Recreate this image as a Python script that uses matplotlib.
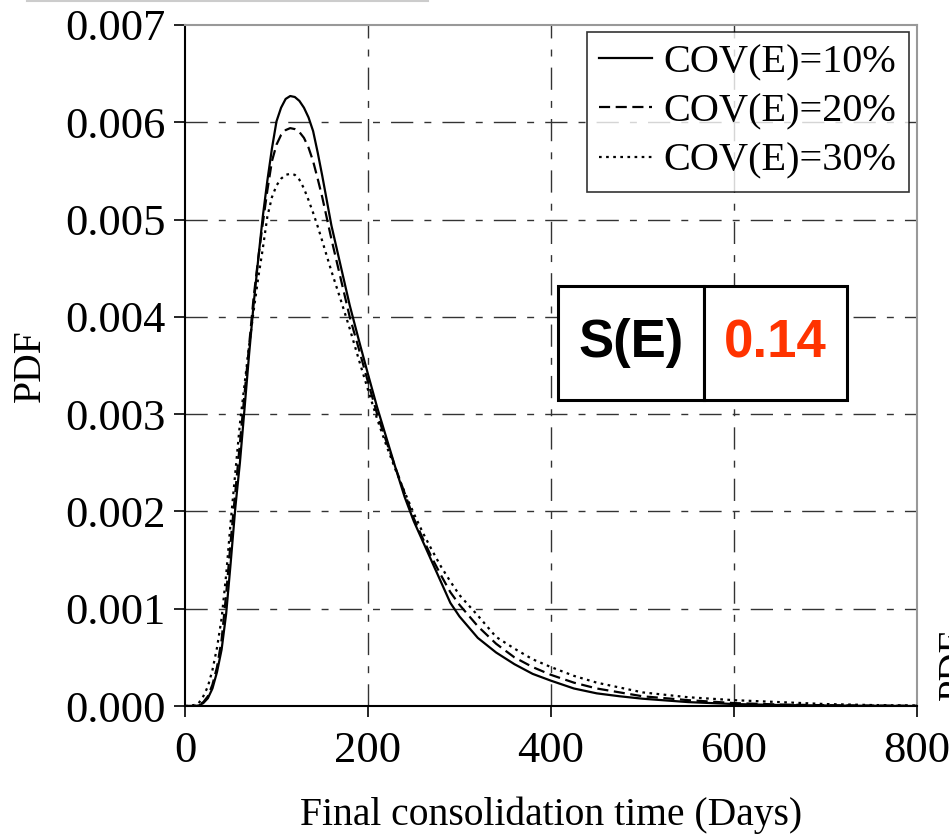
import numpy as np
import matplotlib
matplotlib.use('Agg')
import matplotlib.pyplot as plt
from matplotlib.lines import Line2D
from matplotlib.patches import Rectangle

# final consolidation time (days)
days = [0, 5, 10, 15, 20, 25, 30, 35, 40, 45, 50, 55, 60, 65, 70, 75, 80, 85, 90, 95,
        100, 105, 110, 115, 120, 125, 130, 135, 140, 145, 150, 160, 170, 180, 190, 200,
        210, 220, 230, 240, 250, 260, 270, 280, 290, 300, 320, 340, 360, 380, 400,
        425, 450, 475, 500, 550, 600, 650, 700, 750, 800]

pdf_cov10 = [0, 0, 0, 0.000005, 0.00003, 0.00008, 0.00018, 0.00035, 0.00058, 0.00095,
             0.00148, 0.00204, 0.0025, 0.00305, 0.00361, 0.00413, 0.00459, 0.00503, 0.0054, 0.00573,
             0.00601, 0.00615, 0.00624, 0.00627, 0.00626, 0.00622, 0.00615, 0.00605, 0.00591, 0.00569,
             0.00545, 0.00494, 0.00453, 0.00412, 0.00376, 0.00341, 0.00307, 0.00276, 0.00245, 0.00215,
             0.0019, 0.00169, 0.00148, 0.00127, 0.00106, 0.00092, 0.0007, 0.00055, 0.00043, 0.00033,
             0.00026, 0.00018, 0.00013, 0.0001, 0.000075, 0.00004, 0.00002, 0.00001, 0.000005,
             0.000002, 0]

pdf_cov20 = [0, 0, 0, 0.00001, 0.00004, 0.0001, 0.00022, 0.0004, 0.00068, 0.00115,
             0.0017, 0.0022, 0.0027, 0.0032, 0.0037, 0.0042, 0.0046, 0.00496, 0.0053, 0.0056,
             0.00577, 0.00587, 0.00592, 0.00594, 0.00593, 0.0059, 0.00584, 0.00574, 0.0056, 0.00542,
             0.00523, 0.0048, 0.0044, 0.004, 0.00367, 0.00333, 0.003, 0.00272, 0.00245, 0.00219,
             0.00193, 0.00172, 0.00152, 0.00134, 0.00117, 0.00104, 0.00082, 0.00064, 0.0005, 0.0004,
             0.00032, 0.00024, 0.00018, 0.00014, 0.0001, 0.00006, 0.00003, 0.000015, 0.000008,
             0.000004, 0.000002]

pdf_cov30 = [0, 0.000002, 0.00001, 0.00003, 0.0001, 0.0002, 0.00037, 0.0006, 0.0009, 0.00135,
             0.0019, 0.0024, 0.0029, 0.0033, 0.0037, 0.00406, 0.0044, 0.0047, 0.00503, 0.00523,
             0.00535, 0.00542, 0.00546, 0.00547, 0.00546, 0.00541, 0.00532, 0.0052, 0.00507, 0.00493,
             0.00478, 0.00447, 0.00418, 0.00388, 0.00356, 0.00325, 0.00295, 0.00268, 0.00243, 0.0022,
             0.00198, 0.00178, 0.0016, 0.00143, 0.00128, 0.00114, 0.00093, 0.00071, 0.00059, 0.00048,
             0.0004, 0.00031, 0.00024, 0.00019, 0.00014, 0.00009, 0.00006, 0.00004, 0.00002,
             0.00001, 0.000005]

labels = ['COV(E)=10%', 'COV(E)=20%', 'COV(E)=30%']
x_ticks = [0, 200, 400, 600, 800]
y_ticks = [0.000, 0.001, 0.002, 0.003, 0.004, 0.005, 0.006, 0.007]

plt.rcParams['font.family'] = ['Liberation Serif', 'DejaVu Serif']

fig = plt.figure(figsize=(9.49, 8.39), dpi=100)
ax = fig.add_axes([185 / 949, 1 - 706 / 839, 732 / 949, 681 / 839])

grid_dash = (0, (16, 8, 5, 8))
for yv in y_ticks[1:-1]:
    ax.axhline(yv, color='#333333', lw=1, linestyle=grid_dash, zorder=1)
for xv in x_ticks[1:-1]:
    ax.axvline(xv, color='#333333', lw=1, linestyle=grid_dash, zorder=1)

ax.plot(days, pdf_cov10, color='black', lw=1.6, linestyle='-', label=labels[0], zorder=3)
ax.plot(days, pdf_cov20, color='black', lw=1.6, linestyle=(0, (5, 2.5)), label=labels[1], zorder=3)
ax.plot(days, pdf_cov30, color='black', lw=1.6, linestyle=(0, (1.2, 2)), label=labels[2], zorder=3)

ax.set_xlim(0, 800)
ax.set_ylim(0, 0.007)
ax.set_xticks(x_ticks)
ax.set_yticks(y_ticks)
ax.set_yticklabels(['%.3f' % v for v in y_ticks])
ax.tick_params(axis='both', labelsize=32, direction='out', length=8, width=1.2, colors='black')
ax.tick_params(axis='x', pad=10)
ax.tick_params(axis='y', pad=6)

for side in ['left', 'bottom']:
    ax.spines[side].set_color('black')
    ax.spines[side].set_linewidth(1.5)
for side in ['top', 'right']:
    ax.spines[side].set_color('#999999')
    ax.spines[side].set_linewidth(1.5)

ax.set_xlabel('Final consolidation time (Days)', fontsize=28.5, labelpad=18)
ax.set_ylabel('PDF', fontsize=28.5, labelpad=12)

leg = ax.legend(loc='upper right', bbox_to_anchor=(0.989, 0.99), fontsize=29, frameon=True,
                fancybox=False, edgecolor='black', handlelength=1.3, handletextpad=0.3,
                borderpad=0.3, labelspacing=0.3, borderaxespad=0)
leg.get_frame().set_linewidth(1.2)

# S(E) table box
x0, y0 = 558 / 949, 1 - 400 / 839
w1, w2, h = (704 - 558) / 949, (847 - 704) / 949, 114 / 839
for xx, ww in [(x0, w1), (x0 + w1, w2)]:
    fig.add_artist(Rectangle((xx, y0), ww, h, transform=fig.transFigure, facecolor='white',
                             edgecolor='black', lw=2.2, zorder=5))
fig.text(x0 + w1 / 2, y0 + h / 2, 'S(E)', fontsize=38, fontweight='bold', family='Liberation Sans',
         ha='center', va='center', zorder=6)
fig.text(x0 + w1 + w2 / 2, y0 + h / 2, '0.14', fontsize=38, fontweight='bold', family='Liberation Sans',
         color='#ff3300', ha='center', va='center', zorder=6)

# fragments of neighbouring panels
fig.add_artist(Line2D([27 / 949, 428 / 949], [0.999, 0.999], transform=fig.transFigure,
                      color='#cccccc', lw=1.5))
fig.text(937 / 949, 1 - 700 / 839, 'PDF', fontsize=28, rotation=90, ha='left', va='bottom')

fig.savefig('out.png', dpi=100)
